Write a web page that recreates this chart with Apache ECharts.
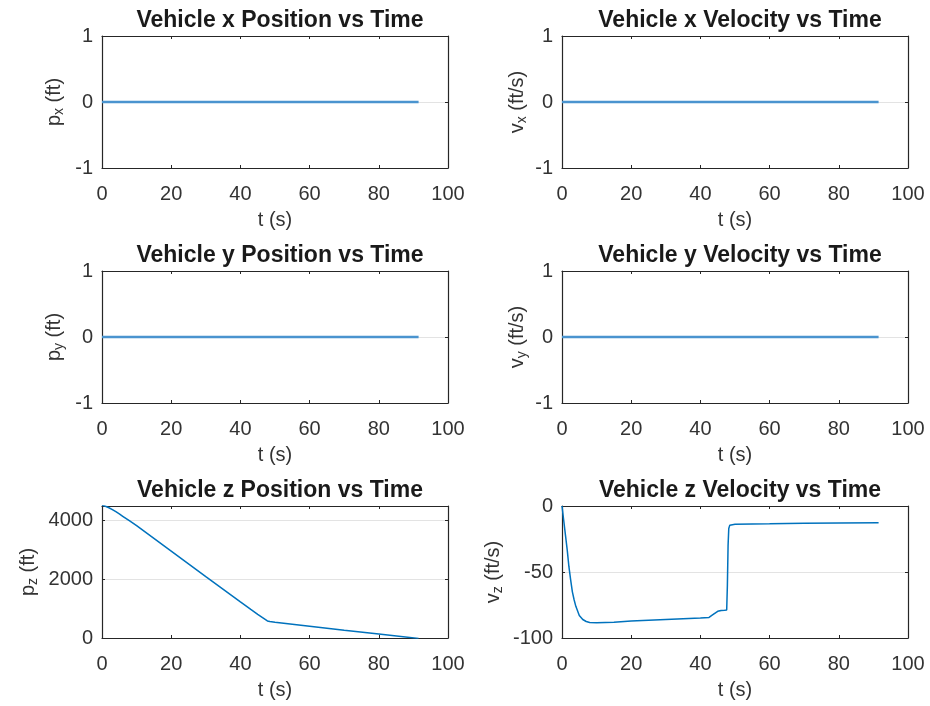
<!DOCTYPE html>
<html>
<head>
<meta charset="utf-8">
<title>Vehicle states vs time</title>
<script src="https://cdn.jsdelivr.net/npm/echarts@6/dist/echarts.min.js"></script>
<style>
  html, body { margin: 0; padding: 0; background: #fff; }
  #chart { width: 930px; height: 706px; }
</style>
</head>
<body>
<div id="chart"></div>
<script>
// time axis ticks
const tTicks = [0, 20, 40, 60, 80, 100];

// x and y channels stay at zero for the whole run
const tFlat = [0, 91.5];
const pxVals = [0, 0];
const vxVals = [0, 0];
const pyVals = [0, 0];
const vyVals = [0, 0];

// z position (ft)
const tPz = [0, 1, 2, 3, 4, 5, 6, 8, 10, 20, 30, 40, 43, 45, 47.8, 48.5, 50, 60, 70, 80, 91.5];
const pzVals = [4530, 4490, 4440, 4375, 4305, 4230, 4150, 3990, 3830, 2960, 2090, 1230, 975, 808, 582, 560, 538, 400, 265, 135, -15];

// z velocity (ft/s)
const tVz = [0, 0.5, 1, 1.5, 2, 2.5, 3, 3.5, 4, 5, 6, 7, 8, 10, 15, 20, 25, 30, 35, 40, 42.5, 43, 43.5, 44, 45, 46, 47, 47.6, 47.8, 48, 48.2, 48.5, 49, 50, 60, 70, 80, 91.5];
const vzVals = [0, -11, -22, -33, -46, -56, -65, -71, -76, -83, -86, -87.5, -88.2, -88.5, -88, -87.2, -86.6, -86, -85.4, -84.8, -84.4, -84, -82.5, -81, -79.8, -79.2, -79, -78.8, -60, -30, -17, -14.5, -14, -13.8, -13.5, -13.1, -12.8, -12.6];

const panels = [
  { title: 'Vehicle x Position vs Time', y: 'p', sub: 'x', unit: ' (ft)',   t: tFlat, v: pxVals, min: -1, max: 1, step: 1, gap: 36, flat: true },
  { title: 'Vehicle x Velocity vs Time', y: 'v', sub: 'x', unit: ' (ft/s)', t: tFlat, v: vxVals, min: -1, max: 1, step: 1, gap: 33, flat: true },
  { title: 'Vehicle y Position vs Time', y: 'p', sub: 'y', unit: ' (ft)',   t: tFlat, v: pyVals, min: -1, max: 1, step: 1, gap: 36, flat: true },
  { title: 'Vehicle y Velocity vs Time', y: 'v', sub: 'y', unit: ' (ft/s)', t: tFlat, v: vyVals, min: -1, max: 1, step: 1, gap: 33, flat: true },
  { title: 'Vehicle z Position vs Time', y: 'p', sub: 'z', unit: ' (ft)',   t: tPz, v: pzVals, min: 0, max: 4500, step: 2000, gap: 62, flat: false },
  { title: 'Vehicle z Velocity vs Time', y: 'v', sub: 'z', unit: ' (ft/s)', t: tVz, v: vzVals, min: -100, max: 0, step: 50, gap: 57, flat: false }
];

const font = "'Liberation Sans', Arial, Helvetica, sans-serif";
const ink = '#262626';
const colLeft = [102, 562];
const rowTop = [36, 271, 506];
const plotW = 346, plotH = 132;

const grids = [], xAxes = [], yAxes = [], titles = [], series = [];

panels.forEach((p, i) => {
  const left = colLeft[i % 2];
  const top = rowTop[Math.floor(i / 2)];
  grids.push({ left: left, top: top, width: plotW, height: plotH, containLabel: false });

  titles.push({
    text: p.title,
    left: left + plotW / 2,
    top: top - 32,
    textAlign: 'center',
    textStyle: { fontFamily: font, fontSize: 23, fontWeight: 'bold', color: '#1a1a1a' }
  });

  const line = { show: true, onZero: false, lineStyle: { color: ink, width: 1.2 } };
  const tick = { show: true, inside: true, length: 3, lineStyle: { color: ink } };

  xAxes.push({
    gridIndex: i, type: 'value', position: 'bottom',
    min: 0, max: 100, interval: 20,
    axisLine: line, axisTick: tick,
    axisLabel: { margin: 16, fontFamily: font, fontSize: 20, color: '#333' },
    splitLine: { show: false },
    name: 't (s)', nameLocation: 'middle', nameGap: 42,
    nameTextStyle: { fontFamily: font, fontSize: 20, color: '#333' }
  });
  xAxes.push({
    gridIndex: i, type: 'value', position: 'top',
    min: 0, max: 100, interval: 20,
    axisLine: line, axisTick: tick,
    axisLabel: { show: false }, splitLine: { show: false }
  });

  yAxes.push({
    gridIndex: i, type: 'value', position: 'left',
    min: p.min, max: p.max, interval: p.step,
    axisLine: line, axisTick: tick,
    axisLabel: {
      margin: 9, fontFamily: font, fontSize: 20, color: '#333',
      padding: [9, 0, 0, 0],
      formatter: v => String(v),
      showMaxLabel: p.max % p.step === 0
    },
    splitLine: { show: true, lineStyle: { color: '#e3e3e3', width: 1 } },
    name: '{n|' + p.y + '}{s|' + p.sub + '}{n|' + p.unit + '}',
    nameLocation: 'middle', nameGap: p.gap, nameMoveOverlap: false,
    nameTextStyle: {
      rich: {
        n: { fontFamily: font, fontSize: 20, color: '#333', lineHeight: 24, verticalAlign: 'middle' },
        s: { fontFamily: font, fontSize: 14, color: '#333', lineHeight: 12, verticalAlign: 'bottom' }
      }
    }
  });
  yAxes.push({
    gridIndex: i, type: 'value', position: 'right',
    min: p.min, max: p.max, interval: p.step,
    axisLine: line, axisTick: tick,
    axisLabel: { show: false }, splitLine: { show: false }
  });

  series.push({
    type: 'line',
    xAxisIndex: 2 * i,
    yAxisIndex: 2 * i,
    data: p.t.map((t, k) => [t, p.v[k]]),
    showSymbol: false,
    symbol: 'none',
    clip: true,
    lineStyle: p.flat ? { color: '#4a94cf', width: 2.5 } : { color: '#0072BD', width: 1.5 },
    animation: false
  });
});

const chart = echarts.init(document.getElementById('chart'));
chart.setOption({
  backgroundColor: '#ffffff',
  animation: false,
  title: titles,
  grid: grids,
  xAxis: xAxes,
  yAxis: yAxes,
  series: series
});
</script>
</body>
</html>
